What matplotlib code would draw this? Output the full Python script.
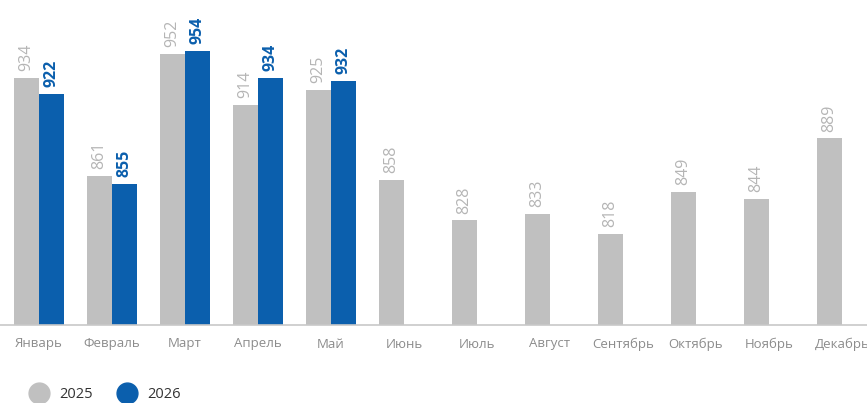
import numpy as np
import matplotlib
matplotlib.use('Agg')
import matplotlib.pyplot as plt
from matplotlib.lines import Line2D

plt.rcParams['font.family'] = ['Open Sans', 'DejaVu Sans']

# данные
months = ['Январь', 'Февраль', 'Март', 'Апрель', 'Май', 'Июнь', 'Июль',
          'Август', 'Сентябрь', 'Октябрь', 'Ноябрь', 'Декабрь']
vals_2025 = [934, 861, 952, 914, 925, 858, 828, 833, 818, 849, 844, 889]
vals_2026 = [922, 855, 954, 934, 932]

c_gray = '#c0c0c0'
c_blue = '#0b5fad'
w = 0.342

fig = plt.figure(figsize=(8.67, 4.03), dpi=100)
ax = fig.add_axes([0, 78 / 403, 1, 325 / 403])

x = np.arange(len(months))
ax.bar(x - w / 2, vals_2025, width=w, color=c_gray)
x2 = np.arange(len(vals_2026))
ax.bar(x2 + w / 2, vals_2026, width=w, color=c_blue)

for xi, v in zip(x, vals_2025):
    ax.text(xi - w / 2, v + 5, str(v), rotation=90, ha='center', va='bottom',
            fontsize=11.5, color='#b5b5b5')
for xi, v in zip(x2, vals_2026):
    ax.text(xi + w / 2, v + 5, str(v), rotation=90, ha='center', va='bottom',
            fontsize=11.5, color=c_blue, fontweight='bold')

ax.set_ylim(750, 992)
ax.set_xlim(-0.534, 11.342)
ax.set_xticks(x)
ax.set_xticklabels(months, fontsize=9.5, color='#8c8c8c')
ax.tick_params(axis='x', length=0, pad=9)
ax.set_yticks([])
for s in ['top', 'left', 'right']:
    ax.spines[s].set_visible(False)
ax.spines['bottom'].set_color('#c8c8c8')
ax.spines['bottom'].set_linewidth(1.2)

handles = [Line2D([], [], marker='o', ls='', markersize=15, color=c_gray),
           Line2D([], [], marker='o', ls='', markersize=15, color=c_blue)]
fig.legend(handles, ['2025', '2026'], loc='center left', bbox_to_anchor=(0.013, 8 / 403),
           ncol=2, frameon=False, fontsize=10.5, handletextpad=0.4, columnspacing=1.3,
           labelcolor='#333333')

fig.savefig('out.png', dpi=100)
